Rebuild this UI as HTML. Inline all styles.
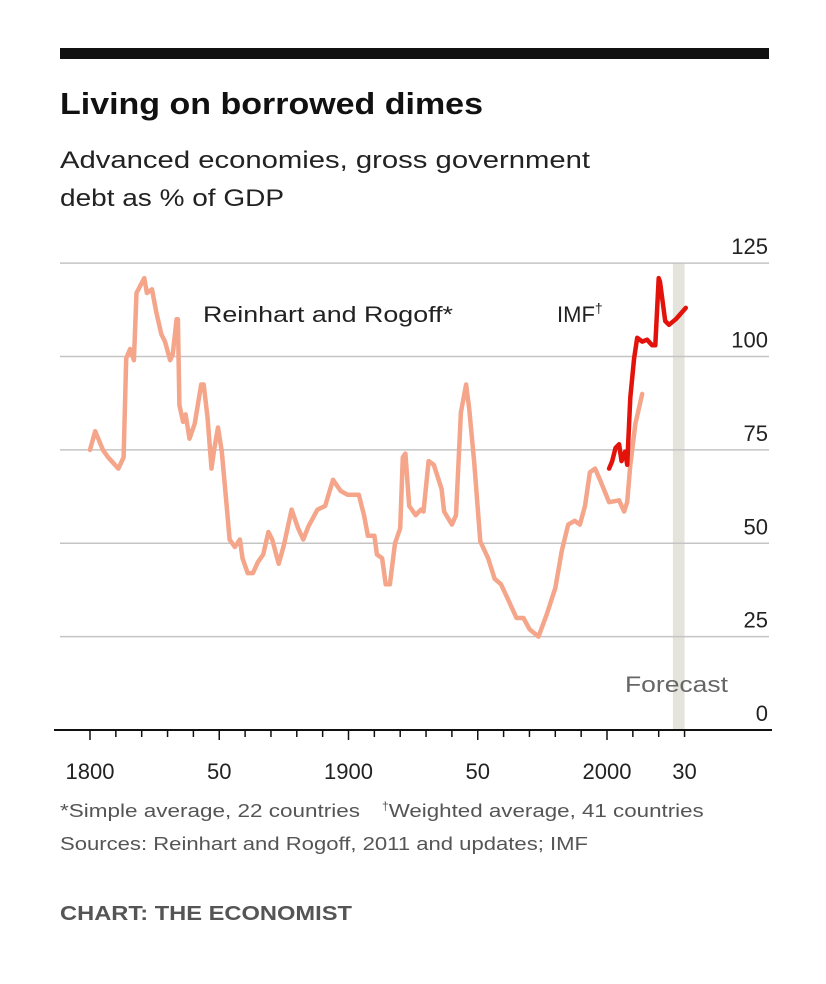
<!DOCTYPE html>
<html><head><meta charset="utf-8"><style>
html,body{margin:0;padding:0;background:#fff;}
svg{display:block;font-family:"Liberation Sans",sans-serif;}
</style></head><body>
<svg id="chart" width="826" height="984" viewBox="0 0 826 984">
<rect x="60" y="48" width="709" height="11" fill="#111"/>
<text x="60" y="114" font-size="31" font-weight="bold" fill="#111" textLength="423" lengthAdjust="spacingAndGlyphs">Living on borrowed dimes</text>
<text x="60" y="168" font-size="24" fill="#222" textLength="530" lengthAdjust="spacingAndGlyphs">Advanced economies, gross government</text>
<text x="60" y="206" font-size="24" fill="#222" textLength="224" lengthAdjust="spacingAndGlyphs">debt as % of GDP</text>
<rect id="forecast-band" fill="#e4e4dc"/>
<g id="grid"></g>
<g id="ylabels"></g>
<g id="xaxis"></g>
<g id="series"></g>
<text x="203" y="322" font-size="22" fill="#222" textLength="250" lengthAdjust="spacingAndGlyphs">Reinhart and Rogoff*</text>
<text x="557" y="322" font-size="22" fill="#222">IMF<tspan font-size="14" dy="-9">†</tspan></text>
<text x="625" y="692" font-size="22" fill="#666" textLength="103" lengthAdjust="spacingAndGlyphs">Forecast</text>
<text x="60" y="817" font-size="18" fill="#555" textLength="300" lengthAdjust="spacingAndGlyphs">*Simple average, 22 countries</text>
<text x="382" y="817" font-size="18" fill="#555"><tspan font-size="12" dy="-7">†</tspan><tspan dy="7" textLength="315" lengthAdjust="spacingAndGlyphs">Weighted average, 41 countries</tspan></text>
<text x="60" y="850" font-size="18" fill="#555" textLength="528" lengthAdjust="spacingAndGlyphs">Sources: Reinhart and Rogoff, 2011 and updates; IMF</text>
<text x="60" y="920" font-size="20" font-weight="bold" fill="#555" textLength="292" lengthAdjust="spacingAndGlyphs">CHART: THE ECONOMIST</text>
</svg>
<script>
const yTicks=[0,25,50,75,100,125];
const xTickLabels=["1800","50","1900","50","2000","30"];
const xTickLabelYears=[1800,1850,1900,1950,2000,2030];
const forecastYears=[2025.5,2030];
const rrYears=[1800,1802,1805,1807,1811,1813,1814,1815.5,1817,1818,1821,1822,1824,1825.6,1827.6,1829,1831,1832,1833.5,1834,1834.6,1836,1837,1838.5,1840.5,1843,1844,1845.5,1847,1848,1849.5,1851,1853,1854,1856,1858,1859,1861,1863,1865,1867,1869,1870.5,1873,1875,1878,1880.5,1882.5,1884.5,1888,1891,1894,1897,1899.6,1904,1906,1907.5,1910,1911,1913,1914.4,1916,1918,1920,1921,1922,1923.5,1926,1928,1929,1931,1933,1936,1937,1940,1941.6,1943.5,1945.5,1946.7,1948.6,1951,1954,1956.5,1959,1962,1965,1967.7,1970,1973.5,1976.7,1980,1982.5,1985,1987.5,1989.5,1991.5,1993.4,1995.4,1997.3,2000.8,2004.7,2006.6,2007.8,2009,2011,2013.6];
const rrValues=[75,80,75,73,70,73,99.5,102,99,117,121,117,118,112,106,104,99,100.5,110,110,87,82.5,84.5,78,82,92.5,92.5,83.5,70,75,81,74.5,59,51,49,51,46,42,42,45,47,53,51,44.5,49.5,59,54,51,54.5,59,60,67,64,63,63,57.5,52,52,47,46,39,39,50,54,73,74,60,57.5,59,58.5,72,71,64.5,58.5,55,57.5,85,92.5,86,72,50.5,46,40.5,39,34.5,30,30,27,25,31,38,48,55,56,55,60,69,70,67,61,61.5,58.5,61,71,82,90];
const imfYears=[2000.8,2002,2003.3,2004.7,2005.6,2007,2007.8,2009,2010.5,2011.7,2013.6,2015.5,2017.5,2018.7,2020,2020.5,2022.5,2024,2026.6,2030.5];
const imfValues=[70,72,75.5,76.5,72,74.5,71,89,99.5,105,104,104.5,103,103,121,120,109.5,108.5,110,113];

const NS="http://www.w3.org/2000/svg";
const X=yr=>90+2.585*(yr-1800);
const Y=v=>730-3.735*v;
function mk(tag,attrs,parent){const e=document.createElementNS(NS,tag);for(const k in attrs)e.setAttribute(k,attrs[k]);parent.appendChild(e);return e;}
const fb=document.getElementById('forecast-band');
fb.setAttribute('x',X(forecastYears[0]));fb.setAttribute('width',X(forecastYears[1])-X(forecastYears[0]));
fb.setAttribute('y',Y(125));fb.setAttribute('height',Y(0)-Y(125));
const grid=document.getElementById('grid'),yl=document.getElementById('ylabels');
yTicks.forEach(v=>{
  if(v>0){const l=mk('line',{x1:60,x2:769,y1:Y(v),y2:Y(v),stroke:'#c4c4c4','stroke-width':1.6},grid);
  
  }
  const t=mk('text',{x:768,y:Y(v)-9,'text-anchor':'end','font-size':22,fill:'#222'},yl);
  t.textContent=v;
  
  
});
const xa=document.getElementById('xaxis');
const ax=mk('line',{x1:54,x2:772,y1:Y(0),y2:Y(0),stroke:'#111','stroke-width':2},xa);


for(let yr=1800;yr<=2030;yr+=10){
  const major=(yr%50===0);
  const t=mk('line',{x1:X(yr),x2:X(yr),y1:Y(0),y2:Y(0)+(major?10:7),stroke:'#111','stroke-width':1.5},xa);
  
  
}
xTickLabels.forEach((s,i)=>{
  const t=mk('text',{x:X(xTickLabelYears[i]),y:779,'text-anchor':'middle','font-size':22,fill:'#222'},xa);
  t.textContent=s;
  
  
});
const sg=document.getElementById('series');
function line(xs,vs,color,w,name){
  const d=xs.map((x,i)=>(i?'L':'M')+X(x).toFixed(1)+','+Y(vs[i]).toFixed(1)).join(' ');
  const p=mk('path',{d:d,fill:'none',stroke:color,'stroke-width':w,'stroke-linejoin':'round','stroke-linecap':'round'},sg);
  
  
}
line(rrYears,rrValues,'#f4a58a',4.5,'reinhart-rogoff-line');
line(imfYears,imfValues,'#e3120b',4.5,'imf-line');
</script>
</body></html>
